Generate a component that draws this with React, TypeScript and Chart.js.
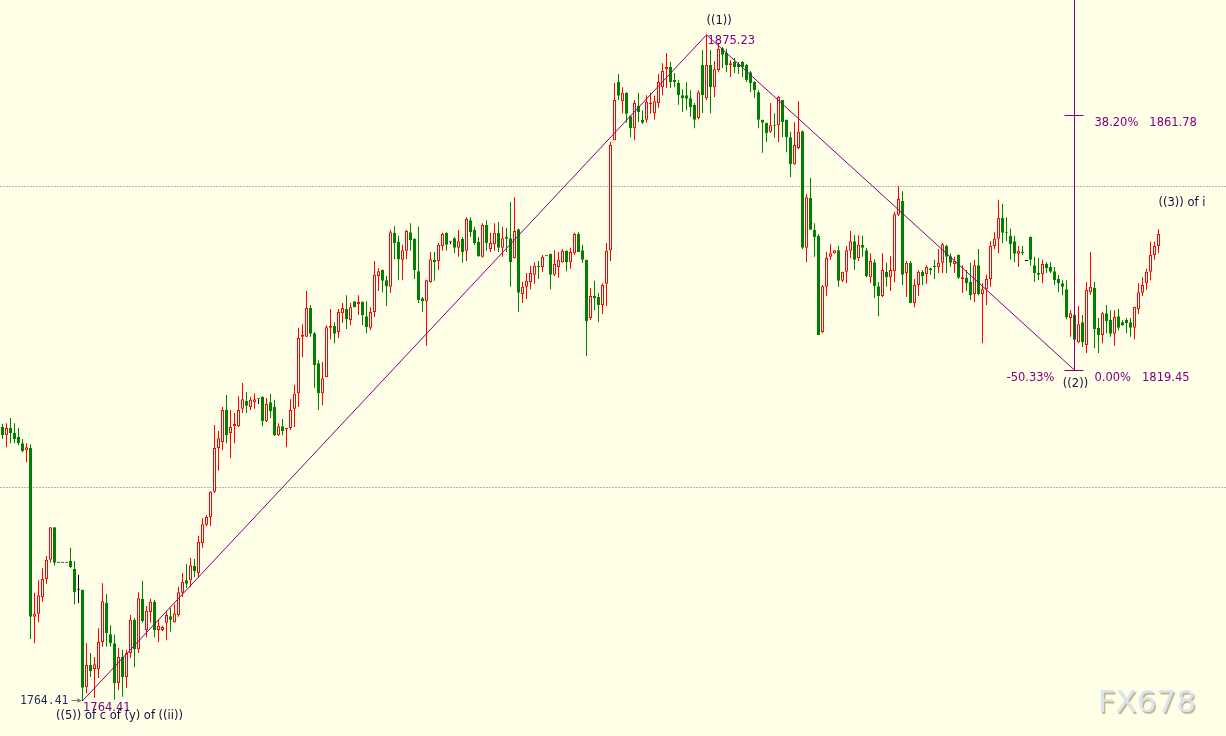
import React, { useEffect, useRef } from "react";
import { Chart, registerables } from "chart.js";

Chart.register(...registerables);

// ---- OHLC data (one candle per slot) ----
const OPEN = [
  1810.0, 1808.6, 1809.8, 1809.0, 1808.3, 1807.3, 1806.1, 1806.5, 1778.4, 1778.9,
  1781.7, 1784.7, 1787.9, 1793.3, 1787.4, 1787.4, 1787.4, 1787.7, 1786.4, 1782.9,
  1782.9, 1766.7, 1770.4, 1769.7, 1769.7, 1774.2, 1780.7, 1775.5, 1774.0, 1767.4,
  1771.7, 1768.4, 1772.4, 1777.9, 1773.0, 1781.4, 1776.2, 1779.2, 1780.9, 1776.2,
  1776.2, 1777.4, 1778.5, 1777.5, 1778.7, 1782.4, 1784.5, 1784.5, 1786.9, 1785.7,
  1790.7, 1793.7, 1795.0, 1799.2, 1806.5, 1807.5, 1812.8, 1809.0, 1810.1, 1810.1,
  1813.0, 1814.3, 1813.3, 1814.1, 1814.6, 1815.0, 1811.0, 1814.1, 1813.3, 1808.6,
  1810.1, 1809.6, 1809.8, 1813.0, 1815.6, 1825.0, 1825.0, 1829.8, 1825.6, 1820.6,
  1815.6, 1818.3, 1826.5, 1826.8, 1825.8, 1828.9, 1829.6, 1827.8, 1830.9, 1830.4,
  1830.8, 1828.4, 1826.5, 1829.1, 1835.1, 1836.1, 1834.4, 1833.3, 1842.3, 1840.8,
  1837.8, 1839.3, 1842.4, 1841.3, 1835.9, 1831.4, 1830.9, 1834.1, 1837.8, 1837.6,
  1840.1, 1842.3, 1840.8, 1841.4, 1839.8, 1841.3, 1839.3, 1844.4, 1842.8, 1840.8,
  1838.3, 1843.6, 1839.6, 1840.4, 1842.3, 1839.8, 1841.6, 1841.4, 1838.1, 1842.9,
  1832.1, 1833.3, 1834.1, 1835.3, 1836.8, 1836.6, 1838.4, 1838.8, 1835.3, 1836.6,
  1837.4, 1839.3, 1837.4, 1838.9, 1842.1, 1839.4, 1837.8, 1828.1, 1831.8, 1831.6,
  1830.3, 1833.8, 1839.4, 1857.7, 1867.4, 1864.2, 1865.6, 1861.7, 1859.7, 1863.4,
  1861.1, 1861.1, 1863.7, 1862.2, 1863.9, 1866.5, 1869.5, 1869.9, 1867.7, 1867.2,
  1865.2, 1865.2, 1864.7, 1863.6, 1861.4, 1870.2, 1864.7, 1870.2, 1866.5, 1869.4,
  1873.0, 1872.2, 1870.2, 1870.7, 1870.4, 1870.7, 1870.2, 1869.0, 1867.4, 1865.7,
  1861.1, 1860.6, 1859.1, 1860.2, 1860.2, 1864.4, 1861.1, 1858.2, 1853.7, 1856.4,
  1859.2, 1839.8, 1848.1, 1842.8, 1841.8, 1825.8, 1833.3, 1838.3, 1838.9, 1839.4,
  1834.3, 1835.8, 1839.3, 1840.9, 1838.1, 1840.3, 1839.4, 1834.9, 1837.4, 1833.4,
  1831.8, 1835.8, 1834.9, 1835.9, 1845.3, 1847.6, 1835.6, 1837.3, 1830.6, 1833.6,
  1835.8, 1835.4, 1836.4, 1836.8, 1836.6, 1837.3, 1840.1, 1838.4, 1837.1, 1838.6,
  1834.6, 1834.8, 1834.1, 1832.1, 1836.9, 1832.1, 1832.9, 1834.6, 1840.1, 1841.3,
  1844.8, 1842.4, 1841.8, 1840.9, 1838.8, 1839.1, 1837.6, 1841.6, 1836.9, 1835.6,
  1835.4, 1837.1, 1836.6, 1835.9, 1834.6, 1833.9, 1832.9, 1828.1, 1828.6, 1824.1,
  1827.4, 1823.6, 1832.4, 1833.1, 1826.5, 1825.3, 1828.9, 1827.8, 1825.5, 1828.4,
  1827.4, 1827.8, 1827.4, 1826.5, 1829.6, 1832.3, 1833.9, 1835.8, 1838.6, 1840.1,
];

const HIGH = [
  1810.5, 1810.6, 1811.5, 1810.6, 1809.8, 1808.0, 1807.3, 1807.1, 1782.4, 1784.5,
  1786.5, 1788.5, 1793.3, 1793.3, 1787.4, 1787.4, 1787.4, 1789.9, 1787.7, 1785.4,
  1782.9, 1774.0, 1772.4, 1771.7, 1776.5, 1784.0, 1782.2, 1777.0, 1775.4, 1773.2,
  1772.9, 1772.9, 1778.7, 1778.2, 1782.5, 1784.4, 1780.2, 1781.4, 1781.2, 1777.9,
  1776.9, 1779.4, 1779.9, 1780.5, 1783.4, 1785.7, 1787.2, 1788.2, 1788.0, 1791.9,
  1794.8, 1795.3, 1799.3, 1810.3, 1809.3, 1813.3, 1815.3, 1812.8, 1812.3, 1815.1,
  1817.3, 1815.8, 1815.0, 1815.6, 1814.6, 1815.1, 1814.8, 1815.5, 1814.5, 1810.6,
  1811.3, 1809.8, 1814.6, 1817.0, 1826.5, 1827.1, 1832.6, 1830.3, 1825.8, 1821.1,
  1820.8, 1826.9, 1829.6, 1827.4, 1829.6, 1830.6, 1831.9, 1830.6, 1830.9, 1831.9,
  1830.9, 1830.9, 1829.9, 1837.6, 1836.4, 1836.2, 1835.1, 1842.8, 1843.4, 1841.8,
  1840.3, 1842.8, 1843.9, 1841.4, 1843.3, 1831.6, 1834.5, 1839.1, 1839.1, 1840.6,
  1842.3, 1842.4, 1840.8, 1841.6, 1842.8, 1841.6, 1844.9, 1844.9, 1843.3, 1841.6,
  1843.9, 1844.4, 1842.3, 1843.9, 1844.1, 1843.3, 1843.1, 1847.4, 1848.2, 1843.0,
  1834.1, 1835.6, 1836.8, 1837.4, 1837.6, 1838.6, 1838.4, 1838.8, 1839.4, 1839.1,
  1839.6, 1839.4, 1839.8, 1842.3, 1842.4, 1840.3, 1837.8, 1833.1, 1834.3, 1832.3,
  1833.9, 1840.6, 1857.4, 1867.2, 1868.7, 1866.5, 1865.7, 1861.8, 1864.4, 1865.6,
  1862.7, 1865.2, 1865.6, 1865.1, 1868.7, 1870.5, 1872.2, 1870.7, 1868.9, 1867.7,
  1866.2, 1867.4, 1866.0, 1863.9, 1866.0, 1872.7, 1875.23, 1872.7, 1870.9, 1873.9,
  1873.2, 1872.9, 1871.0, 1871.4, 1870.7, 1870.9, 1870.4, 1869.2, 1867.5, 1866.0,
  1861.1, 1860.6, 1863.9, 1862.2, 1865.1, 1864.4, 1861.1, 1859.1, 1860.7, 1864.2,
  1859.3, 1848.7, 1851.4, 1843.9, 1842.1, 1833.6, 1839.1, 1840.4, 1839.4, 1840.1,
  1835.8, 1840.1, 1842.6, 1841.9, 1841.9, 1841.8, 1839.8, 1838.9, 1837.9, 1834.1,
  1838.9, 1837.3, 1838.4, 1845.8, 1850.1, 1849.2, 1837.6, 1837.6, 1834.6, 1836.1,
  1836.1, 1836.9, 1836.5, 1837.8, 1839.6, 1840.6, 1840.3, 1838.9, 1838.3, 1838.7,
  1836.9, 1836.1, 1837.3, 1837.8, 1839.6, 1833.9, 1835.3, 1840.9, 1842.4, 1847.8,
  1847.1, 1844.9, 1843.0, 1841.8, 1840.1, 1840.1, 1837.6, 1841.7, 1838.3, 1838.1,
  1837.8, 1837.4, 1837.4, 1836.6, 1835.3, 1834.4, 1834.4, 1829.4, 1829.0, 1830.1,
  1828.6, 1834.1, 1839.1, 1834.1, 1828.1, 1829.1, 1830.3, 1829.4, 1829.4, 1829.6,
  1827.8, 1828.1, 1828.1, 1830.0, 1833.9, 1834.9, 1836.3, 1840.8, 1840.8, 1842.9,
];

const LOW = [
  1808.0, 1806.6, 1807.3, 1807.3, 1807.0, 1805.8, 1804.1, 1774.7, 1774.0, 1777.5,
  1780.9, 1783.9, 1787.4, 1786.9, 1787.4, 1787.4, 1787.4, 1786.5, 1780.5, 1780.7,
  1764.41, 1765.7, 1768.4, 1764.9, 1768.2, 1773.4, 1773.4, 1773.4, 1764.6, 1766.2,
  1765.1, 1766.6, 1771.5, 1770.0, 1772.4, 1777.4, 1775.0, 1777.4, 1775.0, 1774.2,
  1776.0, 1774.5, 1775.9, 1777.4, 1778.4, 1781.7, 1783.2, 1783.4, 1785.0, 1784.9,
  1789.9, 1793.5, 1793.5, 1799.0, 1802.7, 1806.1, 1807.3, 1804.8, 1807.3, 1810.0,
  1812.3, 1812.3, 1812.8, 1813.0, 1813.8, 1810.1, 1810.8, 1811.5, 1808.5, 1808.5,
  1808.6, 1806.6, 1809.5, 1810.0, 1813.3, 1821.6, 1825.0, 1825.0, 1816.5, 1812.8,
  1813.6, 1818.3, 1824.6, 1823.9, 1824.8, 1827.3, 1826.3, 1826.9, 1829.9, 1828.6,
  1826.9, 1825.6, 1826.1, 1828.3, 1832.6, 1832.4, 1830.1, 1832.3, 1837.9, 1834.4,
  1834.4, 1837.9, 1839.3, 1834.6, 1830.6, 1829.1, 1823.5, 1834.0, 1834.3, 1836.1,
  1839.3, 1839.3, 1840.4, 1838.9, 1838.3, 1837.3, 1837.6, 1841.6, 1840.3, 1838.3,
  1838.2, 1839.3, 1839.1, 1839.3, 1839.1, 1838.3, 1839.1, 1833.3, 1838.0, 1829.1,
  1830.6, 1831.3, 1832.9, 1833.8, 1834.6, 1835.8, 1838.4, 1832.9, 1835.1, 1834.8,
  1837.3, 1835.9, 1836.3, 1838.6, 1839.1, 1837.3, 1821.8, 1827.8, 1829.4, 1827.4,
  1828.8, 1830.1, 1837.6, 1857.7, 1864.4, 1862.2, 1860.6, 1858.2, 1857.7, 1860.7,
  1860.4, 1860.6, 1862.1, 1861.1, 1863.1, 1865.2, 1866.4, 1866.4, 1866.5, 1863.6,
  1862.4, 1862.7, 1861.6, 1859.7, 1861.2, 1862.2, 1864.4, 1862.2, 1864.9, 1869.0,
  1869.7, 1869.0, 1868.2, 1868.9, 1868.7, 1868.2, 1867.4, 1865.7, 1864.7, 1859.7,
  1855.6, 1857.4, 1858.9, 1858.1, 1857.4, 1858.2, 1855.7, 1851.6, 1853.6, 1856.2,
  1839.6, 1837.4, 1842.8, 1838.3, 1825.3, 1825.6, 1831.8, 1837.8, 1838.8, 1833.3,
  1834.1, 1833.9, 1838.1, 1836.1, 1837.6, 1838.3, 1834.9, 1833.9, 1831.4, 1828.4,
  1831.6, 1833.3, 1832.6, 1834.1, 1845.1, 1833.6, 1831.6, 1830.6, 1829.9, 1831.8,
  1833.6, 1833.8, 1835.3, 1834.6, 1835.6, 1835.6, 1835.6, 1836.6, 1835.6, 1834.6,
  1832.3, 1832.6, 1831.1, 1830.8, 1831.9, 1823.9, 1830.3, 1833.3, 1839.6, 1838.9,
  1840.6, 1840.9, 1837.8, 1837.4, 1836.6, 1838.6, 1837.6, 1836.8, 1834.1, 1834.4,
  1833.9, 1835.6, 1835.6, 1833.6, 1832.4, 1831.9, 1827.9, 1825.0, 1824.5, 1823.9,
  1823.3, 1822.3, 1832.0, 1823.1, 1822.3, 1823.9, 1825.6, 1825.0, 1823.5, 1826.1,
  1826.8, 1825.6, 1825.0, 1824.6, 1828.8, 1831.8, 1832.8, 1834.4, 1837.8, 1838.9,
];

const CLOSE = [
  1808.6, 1809.8, 1809.0, 1808.0, 1807.3, 1806.0, 1806.6, 1778.4, 1778.9, 1782.0,
  1784.7, 1787.9, 1793.3, 1787.4, 1787.4, 1787.4, 1787.4, 1786.7, 1782.5, 1782.9,
  1766.6, 1770.4, 1769.4, 1770.5, 1774.2, 1781.0, 1775.7, 1774.0, 1767.4, 1771.7,
  1768.4, 1772.4, 1777.9, 1773.0, 1781.5, 1777.7, 1779.4, 1780.9, 1776.2, 1776.9,
  1776.7, 1778.7, 1777.9, 1779.0, 1782.5, 1784.2, 1783.9, 1787.0, 1786.0, 1790.9,
  1793.8, 1795.0, 1799.2, 1806.5, 1808.1, 1812.8, 1808.6, 1810.0, 1810.5, 1812.8,
  1814.6, 1813.5, 1814.5, 1814.6, 1814.6, 1811.0, 1813.8, 1812.6, 1808.6, 1810.1,
  1809.3, 1809.8, 1812.8, 1815.5, 1824.8, 1825.3, 1829.8, 1825.5, 1820.3, 1815.6,
  1818.1, 1826.6, 1826.8, 1825.5, 1829.1, 1829.8, 1827.9, 1829.9, 1829.9, 1830.8,
  1828.6, 1826.6, 1829.1, 1835.3, 1835.9, 1834.3, 1833.4, 1842.4, 1840.6, 1837.9,
  1839.4, 1842.6, 1841.1, 1836.1, 1831.1, 1830.9, 1834.4, 1837.9, 1837.4, 1840.3,
  1842.1, 1840.3, 1840.8, 1839.8, 1840.9, 1839.1, 1844.6, 1842.4, 1840.6, 1838.4,
  1843.6, 1840.6, 1840.6, 1842.3, 1839.8, 1841.4, 1841.3, 1837.4, 1842.6, 1832.3,
  1833.3, 1834.3, 1835.6, 1836.8, 1836.6, 1838.3, 1838.4, 1835.3, 1837.1, 1837.8,
  1839.3, 1837.4, 1839.1, 1842.1, 1839.1, 1837.8, 1827.6, 1831.8, 1831.4, 1830.3,
  1833.6, 1839.3, 1856.9, 1864.4, 1865.1, 1865.6, 1862.1, 1859.7, 1863.9, 1862.4,
  1860.6, 1864.1, 1863.9, 1864.2, 1867.4, 1869.2, 1869.9, 1867.4, 1867.4, 1865.2,
  1864.7, 1864.6, 1863.2, 1861.1, 1865.7, 1865.2, 1870.2, 1866.5, 1869.5, 1872.9,
  1871.9, 1870.2, 1870.5, 1869.9, 1869.9, 1869.9, 1867.7, 1867.2, 1866.0, 1861.1,
  1860.6, 1858.9, 1860.2, 1860.1, 1864.9, 1860.7, 1858.2, 1853.7, 1856.9, 1859.1,
  1839.8, 1848.2, 1842.8, 1841.6, 1825.3, 1833.4, 1838.1, 1838.9, 1839.4, 1834.3,
  1835.8, 1839.4, 1840.9, 1837.8, 1840.3, 1839.8, 1835.1, 1837.6, 1833.4, 1831.8,
  1836.1, 1834.9, 1836.1, 1845.4, 1847.9, 1835.3, 1837.3, 1830.6, 1833.6, 1835.8,
  1835.1, 1836.6, 1836.1, 1836.6, 1837.3, 1840.4, 1838.3, 1837.3, 1837.6, 1834.8,
  1834.9, 1833.9, 1831.9, 1836.9, 1832.1, 1832.9, 1834.6, 1840.1, 1841.3, 1844.8,
  1842.3, 1842.3, 1840.4, 1838.8, 1839.3, 1838.9, 1837.6, 1837.8, 1835.6, 1835.3,
  1837.1, 1836.4, 1835.8, 1834.4, 1833.9, 1833.3, 1828.3, 1828.9, 1824.5, 1827.1,
  1824.1, 1832.8, 1833.3, 1826.3, 1825.3, 1828.9, 1827.6, 1825.5, 1828.3, 1826.5,
  1826.9, 1827.3, 1826.5, 1830.0, 1832.4, 1833.6, 1835.8, 1838.6, 1840.1, 1842.1,
];

// ---- Elliott wave pivots and labels ----
const WAVE_POINT_INDEX = [20, 176, 268];
const WAVE_POINT_PRICE = [1764.41, 1875.23, 1819.45];
const WAVE_LABELS = ["((5)) of c of (y) of ((ii))", "((1))", "((2))"];
const NEXT_WAVE_LABEL = "((3)) of i";
const FIB_RATIOS = [0.382, 0];
const GRID_LEVELS = [1800, 1850];

// ---- axis ranges ----
const Y_MIN = 1758.57;
const Y_MAX = 1881.03;
const X_MIN = -0.625;
const X_MAX = 305.875;

const WATERMARK = "FX678";

const BG = "#FFFFE8";
const UP = "#FF0000";
const DOWN = "#008000";
const DOJI = "#000000";
const PURPLE = "#800080";
const DARK = "#10103a";
const NAVY = "#1f2d5c";
const FONT = "11.5px 'DejaVu Sans'";

const annotationPlugin = {
  id: "waveAnnotations",
  beforeDraw(chart: any) {
    const { ctx, width, height } = chart;
    ctx.save();
    ctx.fillStyle = BG;
    ctx.fillRect(0, 0, width, height);
    ctx.restore();
  },
  beforeDatasetsDraw(chart: any) {
    const { ctx, chartArea, scales } = chart;
    ctx.save();
    ctx.strokeStyle = "#b4b4b4";
    ctx.lineWidth = 1;
    ctx.setLineDash([2, 1]);
    GRID_LEVELS.forEach((v) => {
      const y = Math.floor(scales.y.getPixelForValue(v)) + 0.5;
      ctx.beginPath();
      ctx.moveTo(chartArea.left, y);
      ctx.lineTo(chartArea.right, y);
      ctx.stroke();
    });
    ctx.restore();
  },
  afterDatasetsDraw(chart: any) {
    const { ctx, chartArea, scales } = chart;
    const sx = (v: number) => scales.x.getPixelForValue(v);
    const sy = (v: number) => scales.y.getPixelForValue(v);
    const start = WAVE_POINT_PRICE[0];
    const peak = WAVE_POINT_PRICE[1];
    const base = WAVE_POINT_PRICE[2];
    const range = peak - start;

    ctx.save();
    // Fibonacci projection tool
    const fx = Math.floor(sx(WAVE_POINT_INDEX[2])) + 0.5;
    const yBase = Math.floor(sy(base)) + 0.5;
    ctx.strokeStyle = PURPLE;
    ctx.lineWidth = 1;
    ctx.beginPath();
    ctx.moveTo(fx, chartArea.top);
    ctx.lineTo(fx, yBase);
    ctx.stroke();
    ctx.font = FONT;
    FIB_RATIOS.forEach((r) => {
      const price = base + r * range;
      const y = Math.floor(sy(price)) + 0.5;
      ctx.strokeStyle = PURPLE;
      ctx.beginPath();
      ctx.moveTo(fx - 10, y);
      ctx.lineTo(fx + 9, y);
      ctx.stroke();
      ctx.fillStyle = PURPLE;
      ctx.textAlign = "left";
      ctx.textBaseline = "alphabetic";
      ctx.fillText(`${(r * 100).toFixed(2)}%   ${price.toFixed(2)}`, fx + 20, y + 10.5);
    });
    // retracement percentage
    ctx.fillStyle = PURPLE;
    ctx.textAlign = "right";
    ctx.fillText(`${(((base - peak) / range) * 100).toFixed(2)}%`, fx - 20, yBase + 10.5);
    // ((2))
    ctx.fillStyle = DARK;
    ctx.textAlign = "center";
    ctx.fillText(WAVE_LABELS[2], fx + 1, yBase + 16);

    // ((1)) and peak price
    const px = sx(WAVE_POINT_INDEX[1]);
    const py = sy(peak);
    ctx.textBaseline = "middle";
    ctx.textAlign = "left";
    ctx.fillStyle = DARK;
    ctx.fillText(WAVE_LABELS[1], px, py - 14);
    ctx.fillStyle = PURPLE;
    ctx.fillText(peak.toFixed(2), px + 1, py + 6);

    // ((3)) of i next to last candle
    const last = OPEN.length - 1;
    ctx.fillStyle = DARK;
    ctx.fillText(NEXT_WAVE_LABEL, sx(last), sy(HIGH[last]) - 26);

    // start pivot
    const lx = sx(WAVE_POINT_INDEX[0]);
    const ly = sy(start);
    ctx.font = "11.5px 'DejaVu Sans Mono'";
    ctx.fillStyle = NAVY;
    ctx.textAlign = "right";
    ctx.fillText(start.toFixed(2), lx - 14, ly);
    ctx.strokeStyle = "#7a7a7a";
    ctx.beginPath();
    ctx.moveTo(lx - 11, Math.floor(ly) + 0.5);
    ctx.lineTo(lx - 1, Math.floor(ly) + 0.5);
    ctx.stroke();
    ctx.fillStyle = "#7a7a7a";
    ctx.beginPath();
    ctx.moveTo(lx - 1, Math.floor(ly) + 0.5);
    ctx.lineTo(lx - 5, Math.floor(ly) - 2);
    ctx.lineTo(lx - 5, Math.floor(ly) + 3);
    ctx.closePath();
    ctx.fill();

    ctx.font = FONT;
    ctx.textAlign = "left";
    ctx.fillStyle = PURPLE;
    ctx.fillText(start.toFixed(2), lx + 0.5, ly + 7.5);
    ctx.fillStyle = DARK;
    ctx.textAlign = "center";
    ctx.fillText(WAVE_LABELS[0], lx + 37, ly + 15.5);

    // watermark
    ctx.font = "31px 'DejaVu Sans'";
    ctx.textAlign = "right";
    ctx.textBaseline = "alphabetic";
    const wx = chartArea.right - 30;
    const wy = chartArea.bottom - 24;
    ctx.fillStyle = "#c9b691";
    ctx.fillText(WATERMARK, wx + 1.5, wy + 1.5);
    ctx.fillStyle = "#dbe5f2";
    ctx.fillText(WATERMARK, wx, wy);
    ctx.restore();
  },
};

export default function App() {
  const ref = useRef<HTMLCanvasElement>(null);

  useEffect(() => {
    document.body.style.margin = "0";
    document.body.style.background = BG;
    const canvas = ref.current;
    if (!canvas) return;
    const idx = OPEN.map((_, i) => i);
    const colors = idx.map((i) => (CLOSE[i] > OPEN[i] ? UP : CLOSE[i] < OPEN[i] ? DOWN : DOJI));
    const bodyFill = idx.map((i) => (CLOSE[i] > OPEN[i] ? BG : colors[i]));
    const wickData = idx.map((i) => ({ x: i, y: [LOW[i], HIGH[i]] }));
    const bodyData = idx.map((i) => ({
      x: i,
      y: [Math.min(OPEN[i], CLOSE[i]), Math.max(OPEN[i], CLOSE[i])],
    }));
    const zigzag = WAVE_POINT_INDEX.map((x, k) => ({ x, y: WAVE_POINT_PRICE[k] }));

    const chart = new Chart(canvas, {
      type: "bar",
      data: {
        datasets: [
          {
            type: "line",
            data: zigzag,
            borderColor: PURPLE,
            borderWidth: 1,
            pointRadius: 0,
            tension: 0,
            fill: false,
            order: 0,
          } as any,
          {
            type: "bar",
            data: bodyData,
            backgroundColor: bodyFill,
            borderColor: colors,
            borderWidth: 1,
            borderSkipped: false,
            barThickness: 3,
            minBarLength: 1,
            grouped: false,
            inflateAmount: 0,
            order: 1,
          } as any,
          {
            type: "bar",
            data: wickData,
            backgroundColor: colors,
            borderWidth: 0,
            barThickness: 1,
            grouped: false,
            inflateAmount: 0,
            order: 2,
          } as any,
        ],
      },
      options: {
        responsive: false,
        animation: false,
        devicePixelRatio: 1,
        events: [],
        layout: { padding: 0 },
        plugins: { legend: { display: false }, tooltip: { enabled: false } },
        scales: {
          x: { type: "linear", min: X_MIN, max: X_MAX, display: false, offset: false },
          y: { type: "linear", min: Y_MIN, max: Y_MAX, display: false },
        },
      } as any,
      plugins: [annotationPlugin],
    });
    return () => chart.destroy();
  }, []);

  return (
    <canvas
      ref={ref}
      width={1226}
      height={736}
      style={{ display: "block", width: 1226, height: 736 }}
    />
  );
}
